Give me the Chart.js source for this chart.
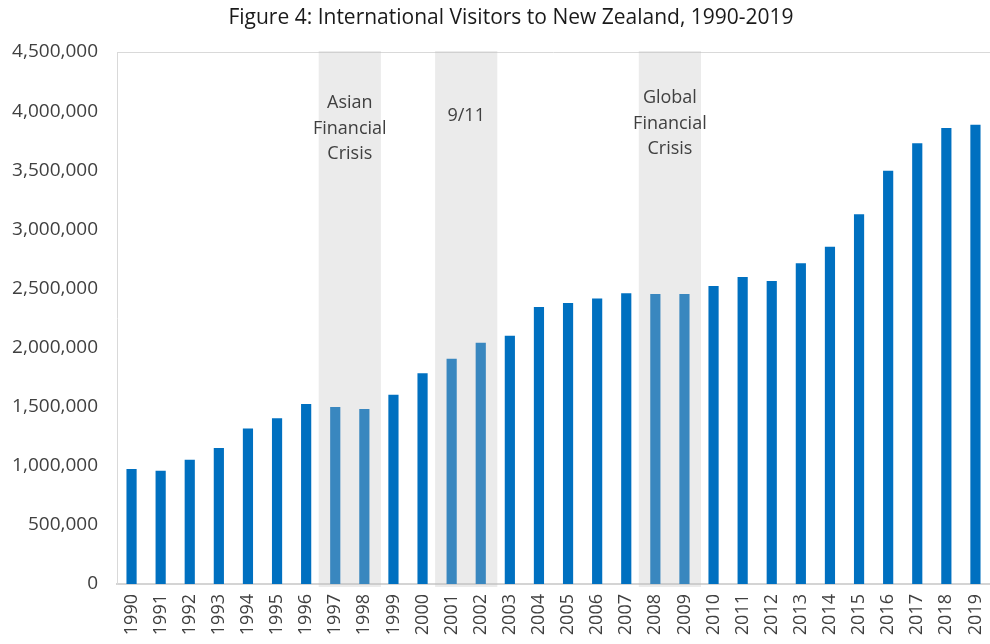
<!DOCTYPE html>
<html>
<head>
<meta charset="utf-8">
<title>International Visitors to New Zealand</title>
<script src="https://cdn.jsdelivr.net/npm/chart.js@4.4.1/dist/chart.umd.min.js"></script>
<style>
  html, body { margin: 0; padding: 0; background: #fff; }
  #wrap { width: 990px; height: 644px; position: relative; }
</style>
</head>
<body>
<div id="wrap"><canvas id="visitors-chart"></canvas></div>
<script>
const chartTitle = 'Figure 4: International Visitors to New Zealand, 1990-2019'

const years = [
  '1990', '1991', '1992', '1993', '1994', '1995', '1996', '1997', '1998', '1999',
  '2000', '2001', '2002', '2003', '2004', '2005', '2006', '2007', '2008', '2009',
  '2010', '2011', '2012', '2013', '2014', '2015', '2016', '2017', '2018', '2019',
]

const visitors = [
  972000, 958000, 1050000, 1150000, 1315000, 1402000, 1523000, 1497000, 1481000, 1600000,
  1783000, 1905000, 2041000, 2099000, 2343000, 2376000, 2415000, 2459000, 2454000, 2453000,
  2521000, 2596000, 2562000, 2713000, 2853000, 3127000, 3495000, 3728000, 3857000, 3884000,
]

const yMax = 4500000
const yStep = 500000

// shaded crisis periods
const crisisStart = ['1997', '2001', '2008']
const crisisEnd = ['1998', '2002', '2009']
const crisisLabels = [
  ['Asian', 'Financial', 'Crisis'],
  ['9/11'],
  ['Global', 'Financial', 'Crisis'],
]

const FONT = '"Open Sans", "Noto Sans", sans-serif'
const TEXT = '#404040'

// top border of the plot and the figure title
const frameAndTitle = {
  id: 'frameAndTitle',
  beforeDatasetsDraw(chart) {
    const { ctx, chartArea } = chart
    ctx.save()
    ctx.strokeStyle = '#d9d9d9'
    ctx.lineWidth = 1
    ctx.beginPath()
    ctx.moveTo(chartArea.left, chartArea.top + 0.5)
    ctx.lineTo(chartArea.right, chartArea.top + 0.5)
    ctx.stroke()
    ctx.restore()
  },
  afterDraw(chart) {
    const { ctx } = chart
    ctx.save()
    ctx.fillStyle = '#1a1a1a'
    ctx.font = `21px ${FONT}`
    ctx.textAlign = 'center'
    ctx.textBaseline = 'middle'
    ctx.fillText(chartTitle, 511, 18)
    ctx.restore()
  },
}

// translucent grey bands over the crisis years, with their labels
const crisisShading = {
  id: 'crisisShading',
  afterDatasetsDraw(chart) {
    const { ctx, chartArea } = chart
    const x = chart.scales.x
    const half = (x.getPixelForValue(1) - x.getPixelForValue(0)) / 2
    const labelTops = [103, 116, 98]

    ctx.save()
    crisisStart.forEach((start, i) => {
      const left = x.getPixelForValue(years.indexOf(start)) - half - 2
      const right = x.getPixelForValue(years.indexOf(crisisEnd[i])) + half + 2
      ctx.fillStyle = 'rgba(190, 190, 190, 0.3)'
      ctx.fillRect(left, chartArea.top - 1, right - left, chartArea.bottom - chartArea.top + 4)

      ctx.fillStyle = TEXT
      ctx.font = `18px ${FONT}`
      ctx.textAlign = 'center'
      ctx.textBaseline = 'middle'
      crisisLabels[i].forEach((line, j) => {
        ctx.fillText(line, (left + right) / 2, labelTops[i] + j * 25.5)
      })
    })
    ctx.restore()
  },
}

initChart()

function initChart() {
  const ctx = document.getElementById('visitors-chart')

  new Chart(ctx, {
    type: 'bar',
    data: {
      labels: years,
      datasets: [
        {
          label: 'International visitors',
          data: visitors,
          backgroundColor: '#0070C0',
          borderWidth: 0,
          categoryPercentage: 1,
          barPercentage: 0.35,
        },
      ],
    },
    options: {
      responsive: true,
      maintainAspectRatio: false,
      animation: false,
      layout: { padding: { top: 52, right: 0, bottom: 0, left: 0 } },
      plugins: {
        legend: { display: false },
        tooltip: { enabled: false },
        title: { display: false },
      },
      scales: {
        x: {
          grid: { display: false, drawTicks: false },
          border: { display: true, color: '#d4d4d4', width: 2 },
          ticks: {
            color: TEXT,
            font: { family: FONT, size: 18 },
            minRotation: 90,
            maxRotation: 90,
            padding: 10,
            autoSkip: false,
          },
          afterFit: (scale) => {
            scale.height = 60
            scale.paddingLeft = 0
            scale.paddingRight = 0
          },
        },
        y: {
          min: 0,
          max: yMax,
          grid: { display: false, drawTicks: false },
          border: { display: true, color: '#d9d9d9', width: 1 },
          ticks: {
            stepSize: yStep,
            color: TEXT,
            font: { family: FONT, size: 19 },
            padding: 19,
            callback: (v) => v.toLocaleString('en-US'),
          },
          afterFit: (scale) => { scale.width = 117 },
        },
      },
    },
    plugins: [frameAndTitle, crisisShading],
  })
}
</script>
</body>
</html>
